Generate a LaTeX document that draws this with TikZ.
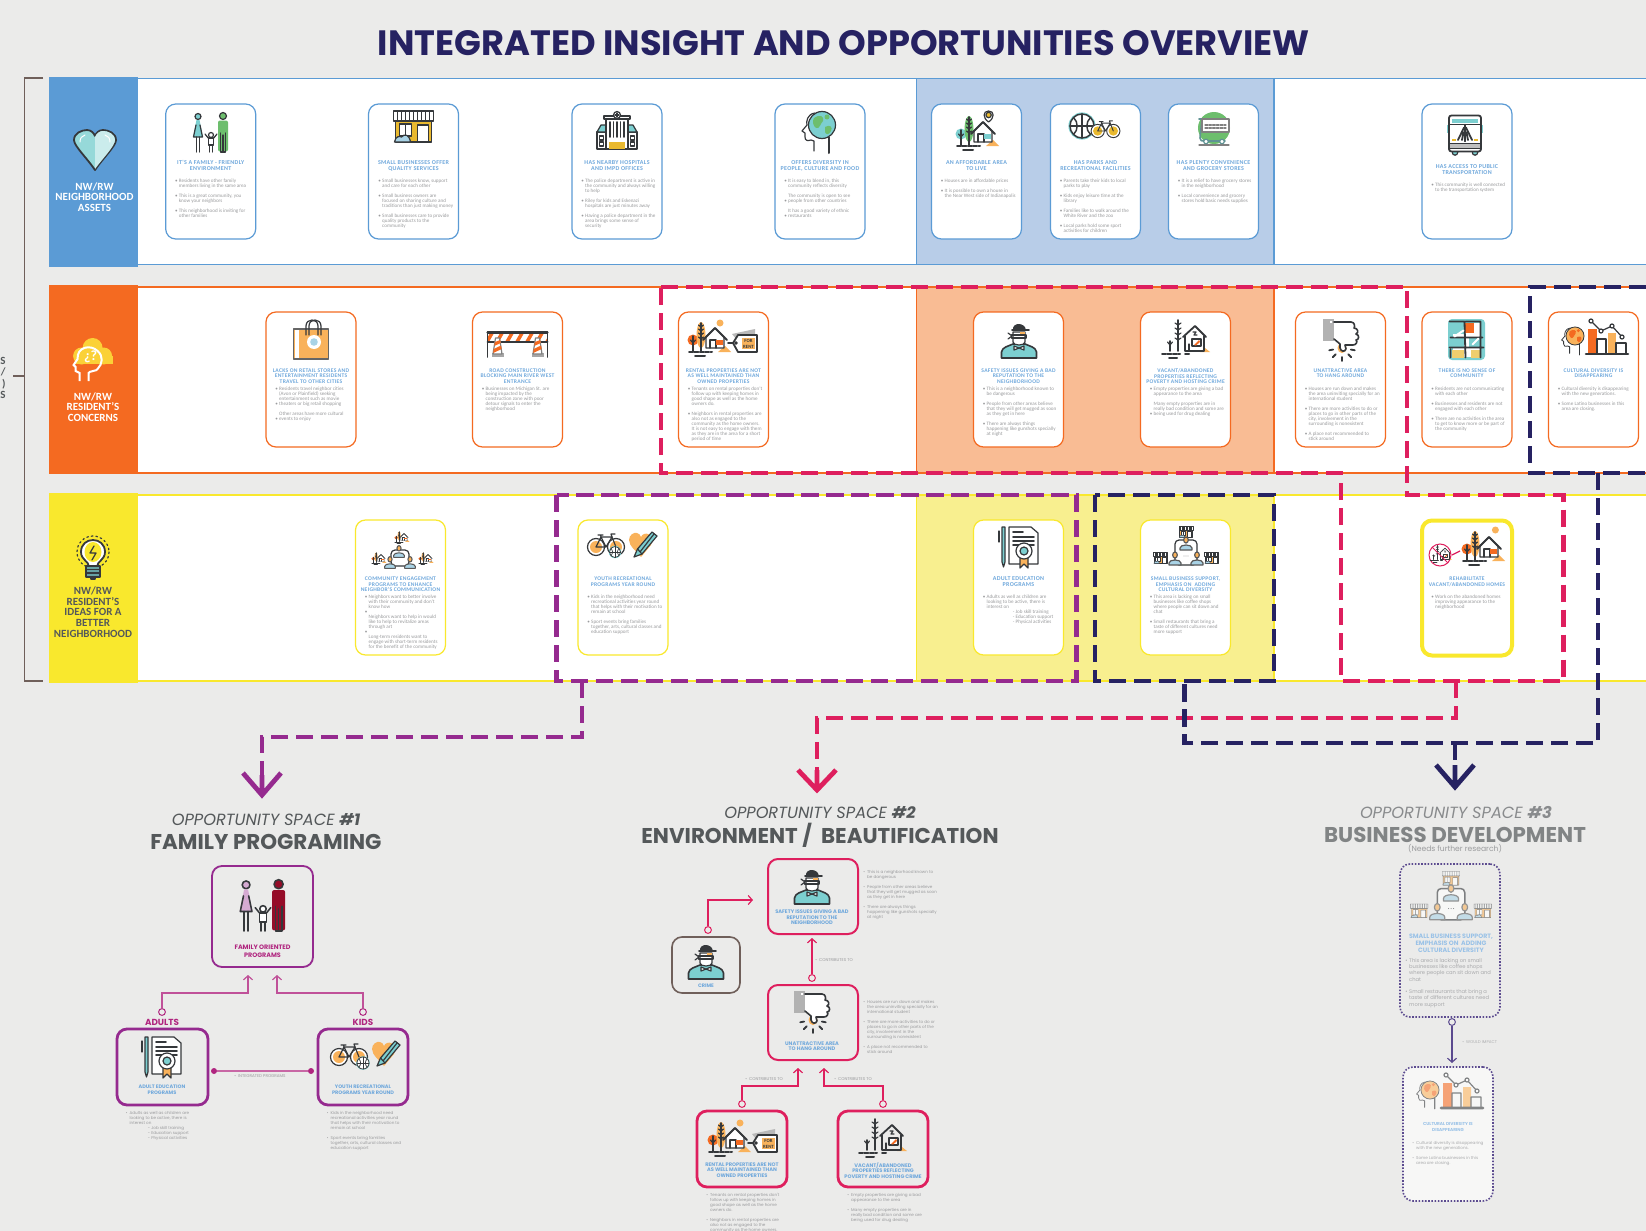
\documentclass[tikz,border=0pt]{standalone}
\usepackage{fontspec}
\usetikzlibrary{arrows.meta}
\setmainfont{Carlito}
\newfontfamily\pop{Poppins}
\newfontfamily\tf[LetterSpace=5]{Carlito}
\definecolor{bgc}{HTML}{EBEBEA}
\definecolor{rblue}{HTML}{5B9BD5}
\definecolor{rorange}{HTML}{F46A21}
\definecolor{ryellow}{HTML}{F9E82D}
\definecolor{hblue}{HTML}{B8CDE8}
\definecolor{horange}{HTML}{F9BC94}
\definecolor{hyellow}{HTML}{F8EF8F}
\definecolor{crim}{HTML}{DE1F5E}
\definecolor{purp}{HTML}{952A8F}
\definecolor{navy}{HTML}{262262}
\definecolor{magen}{HTML}{B0257F}
\definecolor{ttl}{HTML}{6FA8DC}
\definecolor{bod}{HTML}{9A9B9D}
\definecolor{hdg}{HTML}{54585A}
\definecolor{icd}{HTML}{35383B}
\definecolor{ict}{HTML}{7CCFD0}
\definecolor{icy}{HTML}{E9B92F}
\definecolor{icor}{HTML}{F9B25B}
\definecolor{icr}{HTML}{F46A21}
\definecolor{icg}{HTML}{6DBE6D}
\definecolor{icb}{HTML}{A9D3E6}
\definecolor{brow}{HTML}{6F5F5A}
\definecolor{dott}{HTML}{5B4A8F}
\newcommand\fsz[2]{\fontsize{#1pt}{#2pt}\selectfont}
\newcommand\B{\makebox[1.9pt][l]{\textbullet}}
\newcommand\I{\hspace*{1.9pt}}
\tikzset{
 ico/.style n args={3}{shift={(#1,#2)},scale=#3,line width=0.6pt*#3,draw=icd,line join=round,line cap=round},
 card/.style={draw=#1,fill=white,line width=.6pt,rounded corners=5pt,minimum width=45pt,minimum height=67.5pt,inner sep=0},
 ct6/.style={anchor=north,align=center,inner sep=0,text=ttl,font=\tf\fsz{3}{3}\bfseries},
 ct5/.style={anchor=north,align=center,inner sep=0,text=ttl,font=\tf\fsz{2.8}{2.8}\bfseries},
 cb/.style={anchor=north west,align=left,inner sep=0,text=bod,font=\fsz{2.55}{2.5}},
 lab/.style={align=center,inner sep=0,font=\fsz{5.5}{5.4}\bfseries},
 hd/.style={inner sep=0,text=hdg,font=\pop\fsz{8.1}{9}\itshape},
 hb/.style={inner sep=0,text=hdg,font=\pop\fsz{10.7}{12}\bfseries},
 lt/.style={anchor=north,align=center,inner sep=0,text=ttl,font=\pop\fsz{2.5}{3}\bfseries},
 lb/.style={anchor=north west,align=left,inner sep=0,text=bod,font=\pop\fsz{2.05}{2.5}},
 big/.style={draw=#1,rounded corners=5pt,inner sep=0},
 dsh/.style={draw=#1,line width=2.4pt,dash pattern=on 8.7pt off 3.8pt},
 chev/.style={draw=#1,line width=2.4pt,miter limit=4},
 opn/.style={circle,draw=#1,fill=bgc,minimum size=3.4pt,inner sep=0,line width=.5pt},
 cl/.style={inner sep=0,anchor=west,text=bod,font=\pop\fsz{2.05}{2.5}},
 conn/.style={draw=#1,line width=.6pt,-{Straight Barb[length=2pt,width=4.5pt]}},
}
\newcommand\icFamily[5]{\begin{scope}[ico={#1}{#2}{#3}]
 \draw[fill=#4] (-13,-15.5) circle (3);
 \fill[#4] (-14.5,-12)--(-11.5,-12)--(-8,5)--(-18,5)--cycle;
 \draw (-15,-7)--(-17.5,5)--(-8.5,5)--(-11,-7);
 \draw (-14.5,5)--(-14.5,20) (-11.5,5)--(-11.5,20);
 \fill[#5,rounded corners=1pt] (7,-11.5) rectangle (17,19.5);
 \draw[fill=#5] (12,-16) circle (3.5);
 \draw (9.5,1)--(9.5,20)--(14.5,20)--(14.5,1) (12,3)--(12,20);
 \draw (-6,2)--(-2.8,6) (6,2)--(2.8,6);
 \draw[fill=white] (0,3) circle (2.5);
 \draw[fill=white] (-2.6,6) rectangle (2.6,13);
 \draw (-1.4,13)--(-1.4,20) (1.4,13)--(1.4,20);
\end{scope}}
\newcommand\icStore[4]{\begin{scope}[ico={#1}{#2}{#3}]
 \draw[fill=#4] (-18,-6) rectangle (18,15);
 \draw[fill=white] (-20,-16) rectangle (20,-6);
 \foreach \q in {-16,-12,...,16}{\draw (\q,-16)--(\q,-6);}
 \draw[fill=white] (-14,-3) rectangle (-2,9);
 \draw (-8,-3)--(-8,9);
 \draw[fill=white] (4,-2) rectangle (15,15);
 \draw[fill=icb] (-19,15) .. controls (-18,9) and (-14,9) .. (-12,10) .. controls (-9,6) and (-4,8) .. (-3,15) -- cycle;
\end{scope}}
\newcommand\icHospital[3]{\begin{scope}[ico={#1}{#2}{#3}]
 \draw[fill=white] (-20,2) rectangle (20,19);
 \draw[fill=ict] (-20,2)--(-16,-5)--(-10,-5)--(-10,2)--cycle;
 \draw[fill=ict] (20,2)--(16,-5)--(10,-5)--(10,2)--cycle;
 \draw[fill=white] (-11,-11) rectangle (11,19);
 \draw[fill=white] (-13,-14) rectangle (13,-11);
 \draw[fill=white] (0,-15) circle (3.5);
 \draw (-2,-15)--(2,-15) (0,-17)--(0,-13);
 \foreach \q in {-7,-3.5,0,3.5,7}{\draw[line width=.9pt] (\q,-8)--(\q,7);}
 \fill[icy] (-8,12) rectangle (8,19);
 \draw[fill=white] (-17.5,6) rectangle (-13.5,10);
 \draw[fill=white] (13.5,6) rectangle (17.5,10);
 \draw[fill=white] (-17.5,12) rectangle (-13.5,16);
 \draw[fill=white] (13.5,12) rectangle (17.5,16);
\end{scope}}
\newcommand\icHead[5]{\begin{scope}[ico={#1}{#2}{#3}]
 \draw (-7,-12) .. controls (-15,-11) and (-16,-3) .. (-15,0) -- (-20,6) -- (-17,8) -- (-17,12) .. controls (-17,16) and (-14,16) .. (-11,15) -- (-8,16) -- (-8,26);
 \draw[line width=1pt*#3] (7,12)--(7,28);
 \draw[fill=#4] (0,0) circle (13.5);
 \fill[#5] (-8,-7) .. controls (-3,-11) and (3,-9) .. (1,-4) .. controls (-2,-1) and (-2,4) .. (-6,3) .. controls (-9,1) and (-10,-4) .. (-8,-7) -- cycle;
 \fill[#5] (3,2) .. controls (8,-1) and (11,2) .. (9,6) .. controls (7,10) and (4,10) .. (3,7) -- cycle;
 \fill[#5] (5,-8) circle (2.5);
\end{scope}}
\newcommand\icHT[6]{\begin{scope}[ico={#1}{#2}{#3}]
 \fill[#4] (-22,2) circle (5.5);
 \fill[#5] (-14,-3) ellipse (4.5 and 13);
 \draw[line width=.9pt*#3] (-22,-2)--(-22,14) (-14,-15)--(-14,13);
 \foreach \q in {-11,-7,-3,1}{\draw (-16.5,\q-2)--(-14,\q)--(-11.5,\q-2);}
 \draw (-24.5,2)--(-22,5)--(-19.5,2);
 \fill[icor] (3,14)--(10,8)--(16,14)--cycle;
 \draw[fill=white] (-9,10)--(-9,-1)--(0,-10)--(9,-1)--(9,10)--cycle;
 \draw[line width=.9pt*#3] (-12,2)--(0,-10)--(12,2);
 \draw (-5,10)--(-5,2)--(1,2)--(1,10);
 \fill[#6] (1,2) rectangle (8,7);
 \draw[line width=1pt*#3,dash pattern=on 2pt*#3 off .7pt*#3] (-26,14)--(-3,14);
 \draw[line width=1pt*#3] (-20,18)--(-10,18);
\end{scope}}
\newcommand\icBike[4]{\begin{scope}[ico={#1}{#2}{#3}]
 \draw[fill=white] (-10,0) circle (8.5); \draw[fill=white] (10,0) circle (8.5);
 \fill[#4] (-10,0) circle (6); \fill[#4] (10,0) circle (6);
 \draw (-10,0)--(0,0)--(-5,-10)--(6,-10)--(10,0) (0,0)--(6,-10) (-10,0)--(-5,-10);
 \draw (-8,-12)--(-3,-12) (-5,-10)--(-5.5,-12) (6,-10)--(5,-13)--(9,-13);
\end{scope}}
\newcommand\icBall[4]{\begin{scope}[ico={#1}{#2}{#3}]
 \fill[ict] (0,0) circle (1.13*10);
 \draw[fill=white] (0,0) circle (10);
 \draw (-10,0)--(10,0) (0,-10)--(0,10);
 \draw (-7,-7) .. controls (-3,-3) and (-3,3) .. (-7,7);
 \draw (7,-7) .. controls (3,-3) and (3,3) .. (7,7);
\end{scope}}
\newcommand\icCart[3]{\begin{scope}[ico={#1}{#2}{#3}]
 \fill[icg] (0,0) ellipse (16 and 16);
 \draw[line width=.8pt*#3,draw=ict!60!icd] (-15,-9)--(-12,-9)--(-14,10) .. controls (-14,13) and (-12,13) .. (-10,13)--(11,13);
 \draw[fill=white,draw=gray] (-12,-9) rectangle (15,4);
 \draw[gray,dash pattern=on 1.3pt off .6pt] (-9,-3)--(12,-3) (-9,0)--(12,0);
 \draw[fill=white,draw=ict!60!icd] (-8,13.5) circle (2.3); \draw[fill=white,draw=ict!60!icd] (8,13.5) circle (2.3);
 \draw[gray] (-15,17)--(15,17);
\end{scope}}
\newcommand\icBus[3]{\begin{scope}[ico={#1}{#2}{#3}]
 \fill[ict] (-18,-11) rectangle (-16,-3); \fill[ict] (16,-11) rectangle (18,-3);
 \draw[fill=ict] (-10,17) circle (2.7); \draw[fill=ict] (10,17) circle (2.7);
 \draw[fill=white,rounded corners=1.2pt,line width=.9pt] (-16,-20) rectangle (16,16);
 \fill[ict] (-13,-17) rectangle (13,-13);
 \draw (-16,-11)--(16,-11) (0,-11)--(0,6);
 \draw[line width=.9pt] (-7,4.5)--(-1,-8) (7,4.5)--(1,-8) (-3,4.5)--(-1.5,-3) (3,4.5)--(1.5,-3);
 \fill[icy] (-13,3) rectangle (-9,5.5); \fill[icy] (9,3) rectangle (13,5.5);
 \draw[fill=gray!50] (-16,8) rectangle (16,13);
\end{scope}}
\newcommand\icBag[3]{\begin{scope}[ico={#1}{#2}{#3}]
 \draw[fill=icor,draw=gray!80!black] (-17.5,-11) rectangle (17.5,19);
 \fill[white] (-16.5,-10) rectangle (-12,18);
 \draw (-5,-5) -- (-5,-14) .. controls (-5,-22) and (7,-22) .. (7,-14) -- (7,-5);
 \draw (-2,-5) -- (-2,-14) .. controls (-2,-22) and (10,-22) .. (10,-14) -- (10,-5);
 \fill[white] (3,2) circle (7); \fill[icb] (3,2) circle (3.8);
\end{scope}}
\newcommand\icBarrier[3]{\begin{scope}[ico={#1}{#2}{#3}]
 \fill[white] (-30,-9) rectangle (30,-2);
 \begin{scope}\clip (-30,-9) rectangle (30,-2);
 \foreach \q in {-32,-22,...,28}{\fill[icr] (\q,-2)--(\q+4,-9)--(\q+8,-9)--(\q+4,-2)--cycle;}\end{scope}
 \draw[line width=1.1pt*#3] (-30,-10.5)--(30,-10.5);
 \draw[line width=1pt*#3] (-30,-1.5)--(30,-1.5);
 \draw[line width=.8pt*#3] (-30,-11)--(-30,14) (30,-11)--(30,14);
 \foreach \q in {-20,20}{
 \fill[gray!70] (\q-6,10) rectangle (\q+6,14);
 \draw[fill=white,draw=gray] (\q-2,-5)--(\q+2,-5)--(\q+4.5,11)--(\q-4.5,11)--cycle;
 \fill[icr] (\q-2.6,-1)--(\q+2.8,-3)--(\q+3.2,0)--(\q-3.2,3)--cycle;
 \fill[icr] (\q-3.8,6)--(\q+3.6,2.5)--(\q+4.2,6)--(\q-4.3,10)--cycle;}
\end{scope}}
\newcommand\icRental[3]{\begin{scope}[ico={#1}{#2}{#3}]
 \icHT{0}{0}{1}{icr}{icor}{icr}
 \fill[icor] (5,-15) circle (3.5);
 \fill[gray!55] (17,-4)--(40,-9)--(40,2)--(22,2)--cycle;
 \draw[line width=.9pt] (13,5)--(18,5);
 \draw[fill=white,line width=.9pt] (18,5)--(23,-3)--(42,-3)--(42,14)--(23,14)--cycle;
 \fill[icor] (27,0) rectangle (40,11);
 \node[inner sep=0,align=center,text=icd,font=\fsz{2.4}{3}\bfseries] (rent#1#2) at (33.5,5.5) {FOR\\RENT};
 \draw[fill=white] (21,5) circle (1.3);
\end{scope}}
\newcommand\icBandit[3]{\begin{scope}[ico={#1}{#2}{#3}]
 \draw[fill=ict,line width=.8pt*#3] (-17.5,18)--(-17.5,12) .. controls (-17,7) and (-10,6) .. (-6,4)--(6,4) .. controls (10,6) and (17,7) .. (17.5,12)--(17.5,18)--cycle;
 \draw[fill=white] (-6,-8) -- (-6,2) .. controls (-6,6) and (6,6) .. (6,2) -- (6,-8) -- cycle;
 \draw[fill=white] (-5,6)--(0,8)--(5,6)--(5,10)--(0,8)--(-5,10)--cycle;
 \draw (-7.5,-5) rectangle (7,-2);
 \fill[icd] (-6,-10) .. controls (-7,-18) and (6,-18) .. (7,-10) -- cycle;
 \draw[line width=.9pt*#3] (-7,-10)--(10,-10);
 \fill[icor] (1,-8) rectangle (6,-6.5);
 \draw (-7,-4)--(-11,-7) (-7,-4)--(-11,-1);
\end{scope}}
\newcommand\icVacant[3]{\begin{scope}[ico={#1}{#2}{#3}]
 \draw[line width=.9pt*#3] (-8,-19)--(-8,12) (-16,2)--(-16,12);
 \foreach \q in {-14,-9,-4,1}{\draw (-11,\q-2)--(-8,\q)--(-5,\q-2);}
 \draw (-18.5,3)--(-16,6)--(-13.5,3);
 \fill[icor] (14,13)--(19,9)--(24,13)--cycle;
 \draw[line width=.9pt*#3] (-3,-2)--(9,-13)--(20,-2);
 \draw (-1,-3)--(-1,12)--(18,12)--(18,-3) (3,12)--(3,5);
 \draw[fill=white] (6,0) rectangle (15,7);
 \fill[icr] (8,6)--(13,1)--(14,3)--(10,6.5)--cycle;
 \draw (7,-7)--(10,-7)--(8,-4)--(11,-4);
 \draw[line width=1pt*#3,dash pattern=on 2pt*#3 off .7pt*#3] (-24,15)--(-6,15);
 \draw[line width=1pt*#3] (-17,19)--(-9,19) (-1,15)--(3,15);
\end{scope}}
\newcommand\icThumb[3]{\begin{scope}[ico={#1}{#2}{#3}]
 \fill[gray!60] (-18,-20) rectangle (-7,2);
 \fill[white] (-11,-18) rectangle (-9,-16);
 \fill[icor] (1,9) ellipse (4.5 and 5);
 \draw[fill=white,line width=.8pt*#3] (-7,-17) -- (10,-17) .. controls (14,-17) and (14,-12) .. (13,-11) .. controls (17,-11) and (18,-6) .. (15,-5) .. controls (19,-4) and (18,1) .. (15,1) .. controls (17,3) and (15,6) .. (12,6) -- (4,6) -- (5,10) .. controls (4,13) and (0,13) .. (-1,9) -- (-1,5) -- (-7,0);
 \foreach \q in {190,225,270,315,350}{\draw[line width=.9pt*#3] ({1+9*cos(\q)},{9-9*sin(\q)}) -- ({1+13*cos(\q)},{9-13*sin(\q)});}
\end{scope}}
\newcommand\icMap[3]{\begin{scope}[ico={#1}{#2}{#3}]
 \fill[ict,rounded corners=2pt] (-18.5,-20.5) rectangle (18.5,20.5);
 \fill[white] (-14,-17) rectangle (14,17);
 \fill[ict] (-14,-17) rectangle (-3,-6); \fill[icr] (-3,-17) rectangle (7,-7);
 \fill[ict] (-14,-3) rectangle (-3,7); \fill[ict] (2,-3) rectangle (14,7);
 \fill[icy!70] (-15,10) rectangle (-3,18); \fill[icy!70] (4,10) rectangle (14,18);
 \draw[line width=.9pt*#3] (-17,-18)--(-2,-18)--(-1,18) (-1,-18)--(14,-18)--(14,18) (-17,8)--(17,8) (-16,-2)--(16,-2) (-16,18)--(-16,10);
 \draw[white,line width=1pt*#3] (-12,-3)--(-3,-9) (6,5)--(12,-1);
\end{scope}}
\newcommand\icChart[3]{\begin{scope}[ico={#1}{#2}{#3}]
 \icHead{-19}{-1}{.67}{icor}{icr}
 \fill[icr] (-6,-8) rectangle (3,16);
 \draw (3,16)--(3,2)--(12,2)--(12,16);
 \fill[icor] (14,-4) rectangle (22,16);
 \draw (22,16)--(22,6)--(32,6)--(32,16);
 \draw[line width=1.3pt*#3] (-8,17)--(34,17);
 \draw (-3,-16)--(7,-6)--(18,-11)--(28,0);
 \foreach \p/\r in {-3/-16,7/-6,18/-11,28/0}{\draw[fill=white] (\p,\r) circle (2);}
\end{scope}}
\newcommand\icPerson[3]{\begin{scope}[ico={#1}{#2}{#3}]
 \draw[fill=icor,draw=gray!70!black] (0,-3) ellipse (2.3 and 3);
 \draw[fill=icb,draw=gray!70!black] (-6,7)--(-6,5) .. controls (-6,1) and (6,1) .. (6,5) -- (6,7)--cycle;
\end{scope}}
\newcommand\icNet[3]{\begin{scope}[ico={#1}{#2}{#3}]
 \draw[fill=white,rounded corners=2pt] (-11,-6) rectangle (11,19);
 \icStore{0}{-14}{.35}{icor}
 \icStore{-25.5}{12}{.35}{icor}
 \icStore{25.5}{12}{.35}{icor}
 \icPerson{0}{-3}{1}
 \icPerson{-11}{12}{1}
 \icPerson{11}{12}{1}
 \fill[icd] (-2,10) circle (.4) (0,10) circle (.4) (2,10) circle (.4);
\end{scope}}
\newcommand\icCert[3]{\begin{scope}[ico={#1}{#2}{#3}]
 \draw[fill=ict] (-17,-20) -- (-17,15) -- (-15.5,20) -- (-14,15) -- (-14,-20) -- cycle;
 \draw (-20,-16)--(-20,-5);
 \draw[fill=white] (-10,-20)--(12,-20)--(19,-14)--(19,17)--(-10,17)--cycle;
 \draw[line width=.9pt*#3] (-6,-15)--(4,-15) (-6,-10)--(15,-10) (-6,-6)--(15,-6) (-6,-2)--(15,-2);
 \fill[icor] (1,9)--(1,21)--(5,17)--(9,21)--(9,9)--cycle;
 \draw (1,9)--(1,21)--(5,17)--(9,21)--(9,9);
 \draw[fill=white] (5,4) circle (8);
 \draw[fill=ict] (5,4) circle (4);
\end{scope}}
\newcommand\icHeartPen[3]{\begin{scope}[ico={#1}{#2}{#3}]
 \fill[icor] (0,13) .. controls (-4,8) and (-12,2) .. (-12,-4) .. controls (-12,-9) and (-7,-12) .. (-4,-11) .. controls (-2,-11) and (-1,-9) .. (0,-7) .. controls (1,-10) and (5,-11) .. (7,-10) .. controls (11,-9) and (12,-3) .. (10,1) -- cycle;
 \draw[fill=ict] (-7,13)--(-3.5,5)--(11,-12)--(16,-8)--(1,10)--cycle;
 \draw (-3.5,5)--(1,10) (-1,8)--(13,-10);
\end{scope}}
\begin{document}
\begin{tikzpicture}[x=.5pt,y=-.5pt]
\useasboundingbox (0,0) rectangle (1646,1231);
\clip (0,0) rectangle (1646,1231);
\fill[bgc] (0,0) rectangle (1646,1231);
\node[inner sep=0,text=navy,font=\pop\fsz{17.6}{20}\bfseries] (title) at (844,43) {INTEGRATED INSIGHT AND OPPORTUNITIES OVERVIEW};
% bracket
\draw[brow,line width=.8pt] (43,78)--(24.4,78)--(24.4,681)--(43,681);
\draw[brow,line width=.8pt] (13,376)--(24.4,376);
\node[anchor=east,align=right,inner sep=0,text=hdg,font=\fsz{5.5}{5.6}\bfseries] (cut) at (6,378) {S\\/\\)\\S};
% rows
\foreach \a/\b/\c/\h in {78.7/264.7/rblue/hblue,287/473/rorange/horange,495/681/ryellow/hyellow}{
 \fill[white] (138,\a) rectangle (1646,\b);
 \draw[\c,line width=.7pt] (1646,\a)--(138,\a) (138,\b)--(1646,\b);
 \draw[\c,line width=.7pt,fill=\h] (916.5,\a) rectangle (1274,\b);
}
\fill[rblue] (49,77) rectangle (138,267);
\fill[rorange] (49,285) rectangle (138,474);
\fill[ryellow] (49,493) rectangle (138,683);
\node[lab,text=white] (lab1) at (94.5,197) {NW/RW\\NEIGHBORHOOD\\ASSETS};
\node[lab,text=white] (lab2) at (93,407) {NW/RW\\RESIDENT'S\\CONCERNS};
\node[lab,text=hdg] (lab3) at (93,612) {NW/RW\\RESIDENT'S\\IDEAS FOR A\\BETTER\\NEIGHBORHOOD};
% label icons
\begin{scope}[ico={95}{150}{1},line width=.9pt]
 \draw[fill=ict!80!white] (0,20) .. controls (-8,8) and (-21,-4) .. (-21,-10) .. controls (-21,-17) and (-13,-20) .. (-8,-20) .. controls (-4,-20) and (-1,-17) .. (0,-14) .. controls (1,-17) and (4,-20) .. (8,-20) .. controls (13,-20) and (21,-17) .. (21,-10) .. controls (21,-4) and (8,8) .. (0,20) -- cycle;
 \fill[ict!40!white] (0,19) .. controls (8,8) and (20,-4) .. (20,-10) .. controls (20,-16) and (13,-19) .. (8,-19) .. controls (4,-19) and (1,-16) .. (0,-13) -- cycle;
 \draw[white,line width=.5pt] (-15,-8) .. controls (-15,-12) and (-13,-14) .. (-10,-15) (15,-8) .. controls (15,-12) and (13,-14) .. (10,-15);
\end{scope}
\begin{scope}[shift={(92.6,359)}]
 \fill[icor!60!yellow] (0,-11) circle (10) (-11,-3) circle (8.5) (11,-3) circle (8.5);
 \fill[icor!60!yellow] (-17,-3) rectangle (20,5);
 \draw[white,line width=1pt] (-4,22)--(-4,14) .. controls (-4,12) and (5,12) .. (5,10) (-13,22) -- (-13,14) -- (-17,12) -- (-17,8) -- (-19,6) -- (-15,0) .. controls (-16,-12) and (-2,-15) .. (5,-8) .. controls (11,-3) and (10,5) .. (5,10);
 \node[inner sep=0,text=white,font=\fsz{7}{8}\bfseries] (qm) at (-2,-2) {¿?};
\end{scope}
\begin{scope}[ico={93}{558}{1}]
 \draw[dash pattern=on .8pt off 1.5pt] (0,-6) circle (16);
 \draw[fill=white,line width=.9pt] (-4,9) .. controls (-4,3) and (-12,2) .. (-12,-6) .. controls (-12,-22) and (12,-22) .. (12,-6) .. controls (12,2) and (4,3) .. (4,9) -- cycle;
 \fill[ryellow] (0,-6) ellipse (8.5 and 10);
 \draw (1,-12)--(-3,-5)--(3,-5)--(-1,2);
 \draw[fill=ict!70!icd] (-7,8) rectangle (7,19);
 \draw (-7,11.5)--(7,11.5) (-7,15)--(7,15);
 \draw[fill=white] (-2,19) rectangle (2,21);
\end{scope}
% row 1 cards
\foreach \n/\x in {a1/210.7,a2/413.5,a3/617,a4/820,a5/976.5,a6/1095.5,a7/1213.5,a8/1467}{\node[card=rblue] (\n) at (\x,171.5) {};}
\foreach \n/\x in {b1/311,b2/517.5,b3/723.5,b4/1018.5,b5/1185.5,b6/1340.5,b7/1467,b8/1593.5}{\node[card=rorange] (\n) at (\x,379.5) {};}
\foreach \n/\x in {c1/400.5,c2/623,c3/1018.5,c4/1185.5}{\node[card=ryellow] (\n) at (\x,587.5) {};}
\node[card=ryellow,line width=2pt] (c5) at (1467,588) {};
\node[ct6] (a1t) at (210.7,160.3) {IT'S A FAMILY - FRIENDLY\\ENVIRONMENT};
\node[ct6] (a2t) at (413.5,160.3) {SMALL BUSINESSES OFFER\\QUALITY SERVICES};
\node[ct6] (a3t) at (617,160.3) {HAS NEARBY HOSPITALS\\AND IMPD OFFICES};
\node[ct6] (a4t) at (820,160.3) {OFFERS DIVERSITY IN\\PEOPLE, CULTURE AND FOOD};
\node[ct6] (a5t) at (976.5,160.3) {AN AFFORDABLE AREA\\TO LIVE};
\node[ct6] (a6t) at (1095.5,160.3) {HAS PARKS AND\\RECREATIONAL FACILITIES};
\node[ct6] (a7t) at (1213.5,160.3) {HAS PLENTY CONVENIENCE\\AND GROCERY STORES};
\node[ct6] (a8t) at (1467,164.3) {HAS ACCESS TO PUBLIC\\TRANSPORTATION};
\node[cb] (a1b) at (174.7,178.6) {\B Residents have other family\\\I members living in the same area\\[2.5pt]\B This is a great community, you\\\I know your neighbors\\[2.5pt]\B This neighborhood is inviting for\\\I other families};
\node[cb] (a2b) at (378,178.6) {\B Small businesses know, support\\\I and care for each other\\[2.5pt]\B Small business owners are\\\I focused on sharing culture and\\\I traditions than just making money\\[2.5pt]\B Small businesses care to provide\\\I quality products to the\\\I community};
\node[cb] (a3b) at (581,178.6) {\B The police department is active in\\\I the community and always willing\\\I to help\\[2.5pt]\B Riley for kids and Eskenazi\\\I hospitals are just minutes away\\[2.5pt]\B Having a police department in the\\\I area brings some sense of\\\I security};
\node[cb] (a4b) at (784,178.6) {\B It is easy to blend in, this\\\I community reflects diversity\\[2.5pt]\I The community is open to see\\\B people from other countries\\[2.5pt]\I It has a good variety of ethnic\\\B restaurants};
\node[cb] (a5b) at (940.5,178.6) {\B Houses are in affordable prices\\[2.5pt]\B It is possible to own a house in\\\I the Near West side of Indianapolis};
\node[cb] (a6b) at (1059.5,178.6) {\B Parents take their kids to local\\\I parks to play\\[2.5pt]\B Kids enjoy leisure time at the\\\I library\\[2.5pt]\B Families like to walk around the\\\I White River and the zoo\\[2.5pt]\B Local parks hold some sport\\\I activities for children};
\node[cb] (a7b) at (1177.5,178.6) {\B It is a relief to have grocery stores\\\I in the neighborhood\\[2.5pt]\B Local convenience and grocery\\\I stores hold basic needs supplies};
\node[cb] (a8b) at (1431,182.6) {\B This community is well connected\\\I to the transportation system};
\node[ct5] (b1t) at (311,368.3) {LACKS ON RETAIL STORES AND\\ENTERTAINMENT RESIDENTS\\TRAVEL TO OTHER CITIES};
\node[ct5] (b2t) at (517.5,368.3) {ROAD CONSTRUCTION\\BLOCKING MAIN RIVER WEST\\ENTRANCE};
\node[ct5] (b3t) at (723.5,368.3) {RENTAL PROPERTIES ARE NOT\\AS WELL MAINTAINED THAN\\OWNED PROPERTIES};
\node[ct5] (b4t) at (1018.5,368.3) {SAFETY ISSUES GIVING A BAD\\REPUTATION TO THE\\NEIGHBORHOOD};
\node[ct5] (b5t) at (1185.5,368.3) {VACANT/ABANDONED\\PROPERTIES REFLECTING\\POVERTY AND HOSTING CRIME};
\node[ct5] (b6t) at (1340.5,368.3) {UNATTRACTIVE AREA\\TO HANG AROUND};
\node[ct5] (b7t) at (1467,368.3) {THERE IS NO SENSE OF\\COMMUNITY};
\node[ct5] (b8t) at (1593.5,368.3) {CULTURAL DIVERSITY IS\\DISAPPEARING};
\node[cb] (b1b) at (275,387) {\B Residents travel neighbor cities\\\I (Avon or Plainfield) seeking\\\I entertainment such as movie\\\B theaters or big retail shopping\\[2.5pt]\I Other areas have more cultural\\\B events to enjoy};
\node[cb] (b2b) at (481.5,387) {\B Businesses on Michigan St. are\\\I being impacted by the\\\I construction zone with poor\\\I detour signals to enter the\\\I neighborhood};
\node[cb] (b3b) at (687.5,387) {\B Tenants on rental properties don't\\\I follow up with keeping homes in\\\I good shape as well as the home\\\I owners do.\\[2.5pt]\B Neighbors in rental properties are\\\I also not as engaged to the\\\I community as the home owners.\\\I It is not easy to engage with them\\\I as they are in the area for a short\\\I period of time};
\node[cb] (b4b) at (982.5,387) {\B This is a neighborhood known to\\\I be dangerous\\[2.5pt]\B People from other areas believe\\\I that they will get mugged as soon\\\I as they get in here\\[2.5pt]\B There are always things\\\I happening like gunshots specially\\\I at night};
\node[cb] (b5b) at (1149.5,387) {\B Empty properties are giving a bad\\\I appearance to the area\\[2.5pt]\I Many empty properties are in\\\I really bad condition and some are\\\B being used for drug dealing};
\node[cb] (b6b) at (1304.5,387) {\B Houses are run down and makes\\\I the area uninviting specially for an\\\I international student\\[2.5pt]\B There are more activities to do or\\\I places to go in other parts of the\\\I city, involvement in the\\\I surrounding is nonexistent\\[2.5pt]\B A place not recommended to\\\I stick around};
\node[cb] (b7b) at (1431,387) {\B Residents are not communicating\\\I with each other\\[2.5pt]\B Businesses and residents are not\\\I engaged with each other\\[2.5pt]\B There are no activities in the area\\\I to get to know more or be part of\\\I the community};
\node[cb] (b8b) at (1557.5,387) {\B Cultural diversity is disappearing\\\I with the new generations.\\[2.5pt]\B Some Latino businesses in this\\\I area are closing.};
\node[ct5] (c1t) at (400.5,576.6) {COMMUNITY ENGAGEMENT\\PROGRAMS TO ENHANCE\\NEIGHBOR'S COMMUNICATION};
\node[ct5] (c2t) at (623,576.6) {YOUTH RECREATIONAL\\PROGRAMS YEAR ROUND};
\node[ct6] (c3t) at (1018.5,576.6) {ADULT EDUCATION\\PROGRAMS};
\node[ct5] (c4t) at (1185.5,576.6) {SMALL BUSINESS SUPPORT,\\EMPHASIS ON~ ADDING\\CULTURAL DIVERSITY};
\node[ct5] (c5t) at (1467,576.6) {REHABILITATE\\VACANT/ABANDONED HOMES};
\node[cb] (c1b) at (364.5,595) {\B Neighbors want to better involve\\\I with their community and don't\\\I know how\\\B\\\I Neighbors want to help in would\\\I like to help to revitalize areas\\\I through art\\\B\\\I Long-term residents want to\\\I engage with short-term residents\\\I for the benefit of the community};
\node[cb] (c2b) at (587,595) {\B Kids in the neighborhood need\\\I recreational activities year round\\\I that helps with their motivation to\\\I remain at school\\[2.5pt]\B Sport events bring families\\\I together, arts, cultural classes and\\\I education support};
\node[cb] (c3b) at (982.5,595) {\B Adults as well as children are\\\I looking to be active, there is\\\I interest on\\\hspace*{15pt}- Job skill training\\\hspace*{15pt}- Education support\\\hspace*{15pt}- Physical activities};
\node[cb] (c4b) at (1149.5,595) {\B This area is lacking on small\\\I businesses like coffee shops\\\I where people can sit down and\\\I chat\\[2.5pt]\B Small restaurants that bring a\\\I taste of different cultures need\\\I more support};
\node[cb] (c5b) at (1431,595) {\B Work on the abandoned homes\\\I improving appearance to the\\\I neighborhood};
% row icons
\icFamily{211}{132}{1}{ict}{icg}
\icStore{413.5}{127}{1}{icy}
\icHospital{617}{130}{1}
\icHead{822}{125}{1}{ict}{icg}
\icHT{983}{132}{1}{ict}{icg}{ict}
\begin{scope}[ico={988.6}{116}{1}]\draw[fill=white] (0,-5) .. controls (-6,-5) and (-6,2) .. (0,6) .. controls (6,2) and (6,-5) .. (0,-5) -- cycle; \draw[fill=icy] (0,-1) circle (2.7);\end{scope}
\icBall{1082}{126}{1.2}{ict}
\icBike{1105.5}{131}{.78}{icy}
\icCart{1214}{128}{1}
\icBus{1465}{135.5}{1}
\icBag{311}{340}{1}
\icBarrier{517.5}{343}{1}
\icRental{715}{338}{1}
\icBandit{1019}{340}{1}
\icVacant{1186}{339}{1}
\icThumb{1341}{339}{1}
\icMap{1466.5}{339.5}{1}
\icChart{1594}{337}{1}
\icHT{404}{537}{.35}{icr}{icor}{icr}
\icHT{381}{558}{.35}{icr}{icor}{icr}
\icHT{428}{558}{.35}{icr}{icor}{icr}
\begin{scope}[ico={400}{556}{1}]
 \draw[fill=white,rounded corners=2pt] (-9,-6) rectangle (9,10);
\end{scope}
\icPerson{399}{551}{.9}
\icPerson{390}{562}{.9}
\icPerson{410}{562}{.9}
\icBike{606}{547}{1}{icor}
\icBall{615}{552}{.55}{ict}
\icHeartPen{641}{544}{1}
\icCert{1019}{547}{1}
\icNet{1186}{546}{1}
\icHT{1489}{547}{1}{icr}{icor}{icr}
\fill[icor] (1495.4,530) circle (3.5);
\begin{scope}[shift={(1440,555)}]
 \draw[crim,line width=.5pt,fill=white] (0,0) circle (11);
 \icVacant{1}{-1}{.45}
 \draw[crim,line width=.5pt] (-8,-8)--(8,8);
 \draw[crim,line width=.6pt] (12,0)--(20,-4);
\end{scope}
% dashed frames
\draw[dsh=crim] (661,287)--(1407,287)--(1407,495)--(1563.5,495)--(1563.5,681)--(1341,681)--(1341,473)--(661,473)--cycle;
\draw[dsh=purp] (556.5,495) rectangle (1076.5,681);
\draw[dsh=navy] (1095,495) rectangle (1274,681);
\draw[dsh=navy] (1646,287)--(1530,287)--(1530,473)--(1646,473);
% dashed connectors
\coordinate (p0) at (582,681); \coordinate (p1) at (262,737); \coordinate (p2) at (262,775);
\coordinate (q0) at (1456,681); \coordinate (q1) at (817,718); \coordinate (q2) at (817,770);
\coordinate (r0) at (1598,473); \coordinate (r1) at (1184.5,743); \coordinate (r1b) at (1184.5,681); \coordinate (r2) at (1455,743); \coordinate (r3) at (1455,765);
\draw[dsh=purp] (p0) |- (p1) -- (p2);
\draw[dsh=crim] (q0) |- (q1) -- (q2);
\draw[dsh=navy] (r0) |- (r1) -- (r1b);
\draw[dsh=navy] (r2) -- (r3);
\coordinate (pt) at (262,795); \coordinate (qt) at (817,790); \coordinate (rt) at (1455,787);
\draw[chev=purp] (243,773)--(pt)--(281,773) (p2)--(pt);
\draw[chev=crim] (798,770)--(qt)--(836,770) (q2)--(qt);
\draw[chev=navy] (1436,765)--(rt)--(1474,765) (r3)--(rt);
% opportunity 1
\node[hd] (h1a) at (266,820) {OPPORTUNITY SPACE \textbf{\#1}};
\node[hb] (h1b) at (266,842) {FAMILY PROGRAMING};
\node[big=purp,line width=.9pt,minimum width=50.5pt,minimum height=50.5pt] (fam) at (262.5,916.5) {};
\icFamily{263}{905}{1.3}{purp!40!white}{purp!40!red!70!black}
\node[inner sep=0,align=center,text=magen,font=\pop\fsz{3.2}{4}\bfseries] (famt) at (262.5,951) {FAMILY ORIENTED\\PROGRAMS};
\node[big=purp,line width=1.4pt,minimum width=45.5pt,minimum height=38pt] (adu) at (162.5,1067) {};
\node[big=purp,line width=1.4pt,minimum width=45pt,minimum height=38pt] (kid) at (363,1067) {};
\node[inner sep=0,text=magen,font=\pop\fsz{4.4}{5}\bfseries] (adul) at (162,1022) {ADULTS};
\node[inner sep=0,text=magen,font=\pop\fsz{4.4}{5}\bfseries] (kidl) at (363,1022) {KIDS};
\node[opn=magen] (o1) at (162,1012) {};
\node[opn=magen] (o2) at (363,1012) {};
\coordinate (t1) at (248,975); \coordinate (t2) at (277,975);
\coordinate (b1) at (248,993); \coordinate (b2) at (277,993);
\draw[conn=magen!80] (o1.north) |- (b1) -- (t1);
\draw[conn=magen!80] (o2.north) |- (b2) -- (t2);
\node[circle,fill=magen,minimum size=3pt,inner sep=0] (d1) at (214,1071) {};
\node[circle,fill=magen,minimum size=3pt,inner sep=0] (d2) at (311,1071) {};
\draw[magen!70,line width=.7pt] (d1)--(d2);
\node[cl,anchor=center] (il) at (260,1076) {\B INTEGRATED PROGRAMS};
\icCert{162}{1057}{1}
\node[lt] (adt) at (162,1084.5) {ADULT EDUCATION\\PROGRAMS};
\icBike{349}{1057}{1}{icor}
\icBall{363}{1063}{.6}{ict}
\icHeartPen{384}{1053}{1}
\node[lt] (kit) at (363,1084.5) {YOUTH RECREATIONAL\\PROGRAMS YEAR ROUND};
\node[lb] (adb) at (125.5,1111) {\B Adults as well as children are\\\I looking to be active, there is\\\I interest on\\\hspace*{11pt}- Job skill training\\\hspace*{11pt}- Education support\\\hspace*{11pt}- Physical activities};
\node[lb] (kib) at (326.5,1111) {\B Kids in the neighborhood need\\\I recreational activities year round\\\I that helps with their motivation to\\\I remain at school\\[2.5pt]\B Sport events bring families\\\I together, arts, cultural classes and\\\I education support};
% opportunity 2
\node[hd] (h2a) at (820,813) {OPPORTUNITY SPACE \textbf{\#2}};
\node[hb] (h2b) at (820,835) {ENVIRONMENT /~ BEAUTIFICATION};
\node[big=crim,line width=1pt,minimum width=45pt,minimum height=37.5pt] (saf) at (813,896.5) {};
\node[big=brow,line width=.8pt,minimum width=34pt,minimum height=28pt] (cri) at (706,965) {};
\node[big=crim,line width=1pt,minimum width=45pt,minimum height=37.5pt] (una) at (813,1022.5) {};
\node[big=crim,line width=1.4pt,minimum width=45pt,minimum height=38pt] (ren) at (742,1149) {};
\node[big=crim,line width=1.4pt,minimum width=45pt,minimum height=38pt] (vac) at (883,1149) {};
\icBandit{812}{886}{1}
\icBandit{706}{961}{1}
\icThumb{812}{1011}{1}
\icRental{735}{1138}{1}
\icVacant{883}{1138}{1}
\node[lt,font=\pop\fsz{2.55}{2.85}\bfseries] (saft) at (812,909.5) {SAFETY ISSUES GIVING A BAD\\REPUTATION TO THE\\NEIGHBORHOOD};
\node[lt] (crit) at (706,984) {CRIME};
\node[lt,font=\pop\fsz{2.55}{2.85}\bfseries] (unat) at (812,1041) {UNATTRACTIVE AREA\\TO HANG AROUND};
\node[lt,font=\pop\fsz{2.55}{2.85}\bfseries] (rent) at (742,1162) {RENTAL PROPERTIES ARE NOT\\AS WELL MAINTAINED THAN\\OWNED PROPERTIES};
\node[lt,font=\pop\fsz{2.55}{2.85}\bfseries] (vact) at (883,1162) {VACANT/ABANDONED\\PROPERTIES REFLECTING\\POVERTY AND HOSTING CRIME};
\node[opn=crim] (k1) at (708,930) {};
\coordinate (k1t) at (753,900);
\draw[conn=crim] (k1.north) |- (k1t);
\node[opn=crim] (k2) at (812,978) {};
\coordinate (k2t) at (812,938);
\draw[conn=crim] (k2.north) -- (k2t);
\node[opn=crim] (k3) at (742,1104) {};
\coordinate (k3b) at (798,1086); \coordinate (k3t) at (798,1068);
\draw[conn=crim] (k3.north) |- (k3b) -- (k3t);
\node[opn=crim] (k4) at (883,1104) {};
\coordinate (k4b) at (824,1086); \coordinate (k4t) at (824,1068);
\draw[conn=crim] (k4.north) |- (k4b) -- (k4t);
\node[cl] (cl1) at (815,960) {\B CONTRIBUTES TO};
\node[cl] (cl2) at (745,1079) {\B CONTRIBUTES TO};
\node[cl] (cl3) at (834,1079) {\B CONTRIBUTES TO};
\node[lb] (sas) at (863,870) {\B This is a neighborhood known to\\\I be dangerous\\[2.5pt]\B People from other areas believe\\\I that they will get mugged as soon\\\I as they get in here\\[2.5pt]\B There are always things\\\I happening like gunshots specially\\\I at night};
\node[lb] (uns) at (863,1000) {\B Houses are run down and makes\\\I the area uninviting specially for an\\\I international student\\[2.5pt]\B There are more activities to do or\\\I places to go in other parts of the\\\I city, involvement in the\\\I surrounding is nonexistent\\[2.5pt]\B A place not recommended to\\\I stick around};
\node[lb] (res) at (706,1193) {\B Tenants on rental properties don't\\\I follow up with keeping homes in\\\I good shape as well as the home\\\I owners do.\\[2.5pt]\B Neighbors in rental properties are\\\I also not as engaged to the\\\I community as the home owners,};
\node[lb] (vas) at (847,1193) {\B Empty properties are giving a bad\\\I appearance to the area\\[2.5pt]\B Many empty properties are in\\\I really bad condition and some are\\\I being used for drug dealing};
% opportunity 3
\node[hd,text=hdg!65!bgc] (h3a) at (1456,813) {OPPORTUNITY SPACE \textbf{\#3}};
\node[hb,text=hdg!70!bgc] (h3b) at (1455,835) {BUSINESS DEVELOPMENT};
\node[inner sep=0,text=bod,font=\pop\fsz{3.8}{5}] (h3c) at (1455,849) {(Needs further research)};
\node[draw=dott,dash pattern=on .8pt off .8pt,line width=.8pt,rounded corners=5pt,minimum width=50pt,minimum height=76.5pt,inner sep=0] (sb) at (1450,940.5) {};
\node[draw=dott,fill=white,fill opacity=.6,dash pattern=on .8pt off .8pt,line width=.8pt,rounded corners=5pt,minimum width=45pt,minimum height=67pt,inner sep=0] (cd) at (1448,1134) {};
\begin{scope}[opacity=.6,transparency group]
\icNet{1451}{896}{1.25}
\icChart{1449}{1091}{1}
\end{scope}
\node[lt,text=ttl!70!white,font=\pop\fsz{3.15}{3.45}\bfseries] (sbt) at (1451,934) {SMALL BUSINESS SUPPORT,\\EMPHASIS ON~ ADDING\\CULTURAL DIVERSITY};
\node[lb,text=bod!85!white,font=\pop\fsz{2.6}{3.15}] (sbb) at (1405,958) {\B This area is lacking on small\\\I businesses like coffee shops\\\I where people can sit down and\\\I chat\\[3pt]\B Small restaurants that bring a\\\I taste of different cultures need\\\I more support};
\node[lt,text=ttl!70!white,font=\pop\fsz{2.15}{3}\bfseries] (cdt) at (1448,1122) {CULTURAL DIVERSITY IS\\DISAPPEARING};
\node[lb,text=bod!85!white] (cdb) at (1412,1141) {\B Cultural diversity is disappearing\\\I with the new generations.\\[2.5pt]\B Some Latino businesses in this\\\I area are closing.};
\node[opn=dott] (w1) at (1452,1022) {};
\coordinate (w1t) at (1452,1063);
\draw[conn=dott] (w1.south) -- (w1t);
\node[cl,text=bod!80!white] (wl) at (1462,1042) {\B WOULD IMPACT};
\end{tikzpicture}
\end{document}
